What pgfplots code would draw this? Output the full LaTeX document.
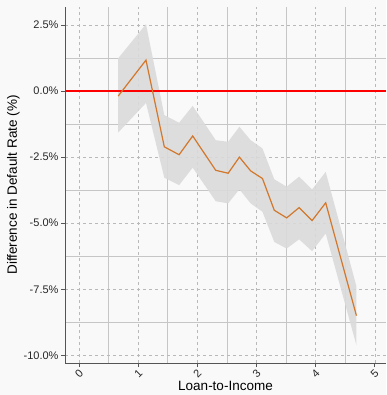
\documentclass[border=0pt]{standalone}
\usepackage{pgfplots}
\pgfplotsset{compat=1.18}
\usepackage{fontspec}
\setmainfont{Liberation Sans}
\usetikzlibrary{backgrounds}
\definecolor{bg}{HTML}{F9F9F9}
\definecolor{lineor}{HTML}{D2772B}
\definecolor{band}{HTML}{DADADA}
\definecolor{axc}{HTML}{555555}
\begin{document}
\begin{tikzpicture}[show background rectangle, inner frame sep=0pt, background rectangle/.style={fill=bg,draw=none}]
\begin{axis}[
  scale only axis,
  width=321pt, height=356pt,
  xmin=-0.24, xmax=5.19,
  ymin=-10.29, ymax=3.18,
  axis x line*=bottom, axis y line*=left,
  axis line style={axc, line width=0.9pt, -},
  xtick={0,1,2,3,4,5},
  minor xtick={0.5,1.5,2.5,3.5,4.5},
  ytick={-10,-7.5,-5,-2.5,0,2.5},
  minor ytick={-8.75,-6.25,-3.75,-1.25,1.25},
  yticklabels={-10.0\%,-7.5\%,-5.0\%,-2.5\%,0.0\%,2.5\%},
  tick align=outside,
  major tick length=4pt, minor tick length=0pt,
  tick style={axc, line width=0.7pt},
  grid=both,
  major grid style={gray!55, dashed, line width=0.5pt},
  minor grid style={gray!45, line width=0.8pt},
  /pgf/number format/assume math mode=true,
  tick label style={font=\fontsize{11}{13}\selectfont, text=black!85},
  yticklabel style={xshift=1pt},
  x tick label style={rotate=45, anchor=center, xshift=-4.6pt, yshift=-4.6pt},
  xlabel={Loan-to-Income},
  ylabel={Difference in Default Rate (\%)},
  label style={font=\fontsize{13.5}{15}\selectfont},
  xlabel style={yshift=5pt},
  ylabel style={yshift=-3pt},
  clip=true,
]
\addplot[draw=none, fill=band, fill opacity=0.9] coordinates {
(0.66,1.24) (1.13,2.53) (1.44,-0.91) (1.69,-1.20) (1.92,-0.56) (2.31,-1.86)
(2.52,-1.92) (2.71,-1.35) (2.90,-1.86) (3.10,-2.17) (3.30,-3.34) (3.51,-3.62)
(3.72,-3.24) (3.94,-3.72) (4.17,-3.06) (4.69,-7.39)
(4.69,-9.62) (4.17,-5.39) (3.94,-6.06) (3.72,-5.61) (3.51,-5.96) (3.30,-5.71)
(3.10,-4.57) (2.90,-4.25) (2.71,-3.72) (2.52,-4.25) (2.31,-4.17) (1.92,-2.90)
(1.69,-3.56) (1.44,-3.28) (1.13,-0.45) (0.66,-1.57)
} -- cycle;
\addplot[red, line width=1.8pt] coordinates {(-0.24,0) (5.19,0)};
\addplot[lineor, line width=1.2pt] coordinates {
(0.66,-0.19) (1.13,1.17) (1.44,-2.11) (1.69,-2.41) (1.92,-1.70) (2.31,-3.00)
(2.52,-3.11) (2.71,-2.50) (2.90,-3.02) (3.10,-3.31) (3.30,-4.51) (3.51,-4.80)
(3.72,-4.41) (3.94,-4.90) (4.17,-4.23) (4.69,-8.50)
};
\coordinate (sw) at (rel axis cs:0,0);
\end{axis}
\pgfresetboundingbox
\path[use as bounding box] ([xshift=-65pt,yshift=-32pt]sw) rectangle ++(386pt,395pt);
\end{tikzpicture}
\end{document}
